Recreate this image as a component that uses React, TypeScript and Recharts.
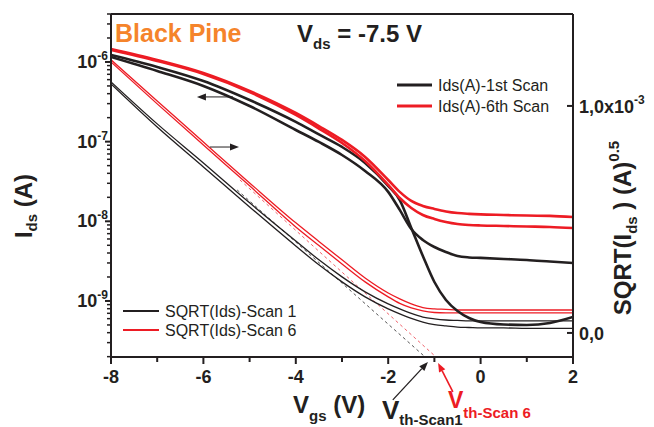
import { Line, LineChart, ReferenceLine, XAxis, YAxis } from "recharts";

const INK = "#231F20";
const RED = "#ED1C24";
const ORANGE = "#F5842B";
const FONT = "'Liberation Sans', Arial, Helvetica, sans-serif";

// gate voltage grid (V)
const vgs = [-8, -7, -6, -5, -4, -3.5, -3, -2.5, -2, -1.75, -1.5, -1.25, -1, -0.75, -0.5, -0.25, 0, 0.5, 1, 1.5, 2];

// Ids (A), log axis
const ids1stA = [1.155e-6, 7.71e-7, 5.0e-7, 2.8e-7, 1.4e-7, 9.91e-8, 6.8e-8, 4.28e-8, 2.34e-8, 1.39e-8, 8.01e-9, 5.83e-9, 4.76e-9, 4.12e-9, 3.67e-9, 3.52e-9, 3.47e-9, 3.37e-9, 3.27e-9, 3.13e-9, 3.0e-9];
const ids1stB = [1.224e-6, 8.66e-7, 5.77e-7, 3.33e-7, 1.77e-7, 1.23e-7, 8.57e-8, 5.4e-8, 2.78e-8, 1.85e-8, 8.25e-9, 3.67e-9, 1.73e-9, 1.03e-9, 7.49e-10, 6.12e-10, 5.45e-10, 5.07e-10, 5.0e-10, 5.3e-10, 6.3e-10];
const ids6thA = [1.456e-6, 1.06e-6, 7.28e-7, 4.33e-7, 2.29e-7, 1.57e-7, 1.05e-7, 6.42e-8, 3.3e-8, 2.34e-8, 1.8e-8, 1.56e-8, 1.43e-8, 1.33e-8, 1.27e-8, 1.24e-8, 1.22e-8, 1.2e-8, 1.18e-8, 1.17e-8, 1.13e-8];
const ids6thB = [1.414e-6, 1.029e-6, 7.07e-7, 4.2e-7, 2.16e-7, 1.46e-7, 9.62e-8, 5.72e-8, 2.86e-8, 1.96e-8, 1.47e-8, 1.2e-8, 1.07e-8, 9.81e-9, 9.26e-9, 9.0e-9, 8.87e-9, 8.74e-9, 8.61e-9, 8.49e-9, 8.25e-9];

// SQRT(Ids) (A^0.5), linear axis
const sqrt1A = [1.106e-3, 0.921e-3, 0.749e-3, 0.573e-3, 0.405e-3, 0.322e-3, 0.247e-3, 0.181e-3, 0.128e-3, 0.106e-3, 0.086e-3, 0.07e-3, 0.062e-3, 0.057e-3, 0.055e-3, 0.053e-3, 0.053e-3, 0.053e-3, 0.053e-3, 0.053e-3, 0.053e-3];
const sqrt1B = [1.097e-3, 0.907e-3, 0.731e-3, 0.555e-3, 0.383e-3, 0.3e-3, 0.225e-3, 0.159e-3, 0.106e-3, 0.084e-3, 0.064e-3, 0.048e-3, 0.037e-3, 0.031e-3, 0.026e-3, 0.024e-3, 0.022e-3, 0.022e-3, 0.02e-3, 0.02e-3, 0.02e-3];
const sqrt6A = [1.203e-3, 1.022e-3, 0.841e-3, 0.661e-3, 0.485e-3, 0.403e-3, 0.322e-3, 0.242e-3, 0.176e-3, 0.15e-3, 0.128e-3, 0.112e-3, 0.106e-3, 0.104e-3, 0.101e-3, 0.101e-3, 0.101e-3, 0.101e-3, 0.101e-3, 0.101e-3, 0.101e-3];
const sqrt6B = [1.194e-3, 1.009e-3, 0.828e-3, 0.648e-3, 0.467e-3, 0.385e-3, 0.304e-3, 0.225e-3, 0.159e-3, 0.13e-3, 0.11e-3, 0.097e-3, 0.09e-3, 0.088e-3, 0.088e-3, 0.088e-3, 0.088e-3, 0.088e-3, 0.088e-3, 0.088e-3, 0.088e-3];

// threshold extrapolation lines
const fitScan1 = [
  { v: -5.27, y: 0.63e-3 },
  { v: -1.2, y: -0.106e-3 },
];
const fitScan6 = [
  { v: -5.21, y: 0.674e-3 },
  { v: -0.965, y: -0.106e-3 },
];

// axes
const LOG_MIN = 1.98e-10;
const LOG_MAX = 4.0e-6;
const SQ_MIN = -0.106e-3;
const SQ_MAX = 1.405e-3;
const xTicks = [-8, -7, -6, -5, -4, -3, -2, -1, 0, 1, 2];
const logExponents = [-10, -9, -8, -7, -6];
const sqrtTicks = [0, 1e-3];

// annotation arrows (data coords)
const arrowToLog = [
  { x: -5.36, y: 3.64e-7 },
  { x: -6.14, y: 3.64e-7 },
];
const arrowToSqrt = [
  { x: -5.86, y: 0.819e-3 },
  { x: -5.23, y: 0.819e-3 },
];
const arrowVth1 = [
  { x: -1.9, y: -0.295e-3 },
  { x: -1.14, y: -0.128e-3 },
];
const arrowVth6 = [
  { x: -0.6, y: -0.26e-3 },
  { x: -0.92, y: -0.132e-3 },
];

const logTicks: number[] = [];
logExponents.forEach((e) => {
  for (let m = 1; m <= 9; m++) {
    const v = m * Math.pow(10, e);
    if (v >= LOG_MIN && v <= LOG_MAX) logTicks.push(v);
  }
});

const rows = vgs.map((v, i) => ({
  v,
  blkA: ids1stA[i],
  blkB: ids1stB[i],
  redA: ids6thA[i],
  redB: ids6thB[i],
  sq1A: sqrt1A[i],
  sq1B: sqrt1B[i],
  sq6A: sqrt6A[i],
  sq6B: sqrt6B[i],
}));

function XTick({ x, y, payload }: any) {
  const major = payload.value % 2 === 0;
  return (
    <g>
      <line x1={x} y1={y} x2={x} y2={y + (major ? 7 : 5)} stroke={INK} strokeWidth={2} />
      {major && (
        <text x={x} y={y + 26} textAnchor="middle" fontFamily={FONT} fontWeight="bold" fontSize={18} fill={INK}>
          {payload.value}
        </text>
      )}
    </g>
  );
}

function LeftTick({ x, y, payload }: any) {
  const lg = Math.log10(payload.value);
  const e = Math.round(lg);
  const major = Math.abs(lg - e) < 1e-6;
  return (
    <g>
      <line x1={x} y1={y} x2={x - (major ? 6 : 4)} y2={y} stroke={INK} strokeWidth={major ? 2 : 1.5} />
      {major && (
        <text x={x - 3} y={y + 6} textAnchor="end" fontFamily={FONT} fontWeight="bold" fontSize={18} fill={INK}>
          10
          <tspan fontSize={12} dy={-8}>
            {e}
          </tspan>
        </text>
      )}
    </g>
  );
}

function RightTick({ x, y, payload }: any) {
  return (
    <g>
      <line x1={x} y1={y} x2={x - 6} y2={y} stroke={INK} strokeWidth={2} />
      <text x={x + 6} y={y + 7} fontFamily={FONT} fontWeight="bold" fontSize={18} fill={INK}>
        {payload.value === 0 ? (
          "0,0"
        ) : (
          <>
            1,0x10
            <tspan fontSize={12} dy={-9}>
              -3
            </tspan>
          </>
        )}
      </text>
    </g>
  );
}

function arrow(color: string, width: number) {
  return (p: any) => {
    const { x1, y1, x2, y2 } = p;
    const a = Math.atan2(y2 - y1, x2 - x1);
    const len = 9;
    const half = 3.5;
    const bx = x2 - len * Math.cos(a);
    const by = y2 - len * Math.sin(a);
    const pts = `${x2},${y2} ${bx - half * Math.sin(a)},${by + half * Math.cos(a)} ${bx + half * Math.sin(a)},${by - half * Math.cos(a)}`;
    return (
      <g>
        <line x1={x1} y1={y1} x2={bx} y2={by} stroke={color} strokeWidth={width} />
        <polygon points={pts} fill={color} />
      </g>
    );
  };
}

export default function App() {
  const axisLine = { stroke: INK, strokeWidth: 2 };
  return (
    <div style={{ position: "absolute", left: 0, top: 0, width: 654, height: 427, background: "#fff" }}>
      <LineChart width={654} height={427} data={rows} margin={{ top: 14, right: 0, bottom: 0, left: 0 }}>
        <XAxis
          dataKey="v"
          type="number"
          domain={[-8, 2]}
          ticks={xTicks}
          interval={0}
          allowDataOverflow
          height={70}
          tickSize={0}
          tickMargin={0}
          tickLine={false}
          axisLine={axisLine}
          tick={<XTick />}
        />
        <YAxis
          yAxisId="left"
          orientation="left"
          width={111}
          type="number"
          scale="log"
          domain={[LOG_MIN, LOG_MAX]}
          ticks={logTicks}
          interval={0}
          allowDataOverflow
          tickSize={0}
          tickMargin={0}
          tickLine={false}
          axisLine={axisLine}
          tick={<LeftTick />}
        />
        <YAxis
          yAxisId="right"
          orientation="right"
          width={81}
          type="number"
          domain={[SQ_MIN, SQ_MAX]}
          ticks={sqrtTicks}
          interval={0}
          allowDataOverflow
          tickSize={0}
          tickMargin={0}
          tickLine={false}
          axisLine={axisLine}
          tick={<RightTick />}
        />
        <ReferenceLine yAxisId="left" y={LOG_MAX} stroke={INK} strokeWidth={2} ifOverflow="visible" />

        <Line yAxisId="right" data={fitScan1} dataKey="y" stroke="#555" strokeWidth={1} strokeDasharray="3 3" dot={false} type="linear" isAnimationActive={false} />
        <Line yAxisId="right" data={fitScan6} dataKey="y" stroke="#F0606A" strokeWidth={1} strokeDasharray="3 3" dot={false} type="linear" isAnimationActive={false} />

        <Line yAxisId="right" dataKey="sq1A" stroke={INK} strokeWidth={1.3} dot={false} type="monotone" isAnimationActive={false} />
        <Line yAxisId="right" dataKey="sq1B" stroke={INK} strokeWidth={1.3} dot={false} type="monotone" isAnimationActive={false} />
        <Line yAxisId="right" dataKey="sq6A" stroke={RED} strokeWidth={1.3} dot={false} type="monotone" isAnimationActive={false} />
        <Line yAxisId="right" dataKey="sq6B" stroke={RED} strokeWidth={1.3} dot={false} type="monotone" isAnimationActive={false} />

        <Line yAxisId="left" dataKey="blkA" stroke={INK} strokeWidth={2.6} dot={false} type="monotone" isAnimationActive={false} />
        <Line yAxisId="left" dataKey="blkB" stroke={INK} strokeWidth={2.6} dot={false} type="monotone" isAnimationActive={false} />
        <Line yAxisId="left" dataKey="redA" stroke={RED} strokeWidth={2.6} dot={false} type="monotone" isAnimationActive={false} />
        <Line yAxisId="left" dataKey="redB" stroke={RED} strokeWidth={2.6} dot={false} type="monotone" isAnimationActive={false} />

        <ReferenceLine yAxisId="left" segment={arrowToLog} ifOverflow="visible" shape={arrow(INK, 1)} />
        <ReferenceLine yAxisId="right" segment={arrowToSqrt} ifOverflow="visible" shape={arrow(INK, 1)} />
        <ReferenceLine yAxisId="right" segment={arrowVth1} ifOverflow="visible" shape={arrow(INK, 1.3)} />
        <ReferenceLine yAxisId="right" segment={arrowVth6} ifOverflow="visible" shape={arrow(RED, 1.6)} />
      </LineChart>

      <svg width={654} height={427} style={{ position: "absolute", left: 0, top: 0, pointerEvents: "none" }} fontFamily={FONT}>
        <text x={115} y={42} fontSize={25} fontWeight="bold" fill={ORANGE}>
          Black Pine
        </text>
        <text x={297} y={42} fontSize={24} fontWeight="bold" fill={INK}>
          V
          <tspan fontSize={15} dy={7}>
            ds
          </tspan>
          <tspan dy={-7}> = -7.5 V</tspan>
        </text>

        {/* legend: Ids */}
        <line x1={397} y1={85} x2={432} y2={85} stroke={INK} strokeWidth={3} />
        <text x={438} y={91} fontSize={16} fill={INK}>
          Ids(A)-1st Scan
        </text>
        <line x1={397} y1={106} x2={432} y2={106} stroke={RED} strokeWidth={3} />
        <text x={438} y={112} fontSize={16} fill={INK}>
          Ids(A)-6th Scan
        </text>

        {/* legend: SQRT */}
        <line x1={123} y1={311} x2={159} y2={311} stroke={INK} strokeWidth={2} />
        <text x={165} y={317} fontSize={16} fill={INK}>
          SQRT(Ids)-Scan 1
        </text>
        <line x1={123} y1={330} x2={159} y2={330} stroke={RED} strokeWidth={2} />
        <text x={165} y={336} fontSize={16} fill={INK}>
          SQRT(Ids)-Scan 6
        </text>

        {/* axis titles */}
        <text transform="translate(32,206) rotate(-90)" textAnchor="middle" fontSize={24} fontWeight="bold" fill={INK}>
          I
          <tspan fontSize={15} dy={5}>
            ds
          </tspan>
          <tspan dy={-5}> (A)</tspan>
        </text>
        <text x={293} y={413} fontSize={24} fontWeight="bold" fill={INK}>
          V
          <tspan fontSize={15} dy={8}>
            gs
          </tspan>
          <tspan dy={-8}> (V)</tspan>
        </text>
        <text transform="translate(631,228) rotate(-90)" textAnchor="middle" fontSize={24} fontWeight="bold" fill={INK}>
          SQRT(I
          <tspan fontSize={15} dy={6}>
            ds
          </tspan>
          <tspan dy={-6}> ) (A)</tspan>
          <tspan fontSize={15} dy={-12}>
            0.5
          </tspan>
        </text>

        {/* threshold labels */}
        <text x={382} y={419} fontSize={26} fontWeight="bold" fill={INK}>
          V
          <tspan fontSize={15} dy={6}>
            th-Scan1
          </tspan>
        </text>
        <text x={448} y={408} fontSize={23} fontWeight="bold" fill={RED}>
          V
          <tspan fontSize={15} dy={10}>
            th-Scan 6
          </tspan>
        </text>
      </svg>
    </div>
  );
}
